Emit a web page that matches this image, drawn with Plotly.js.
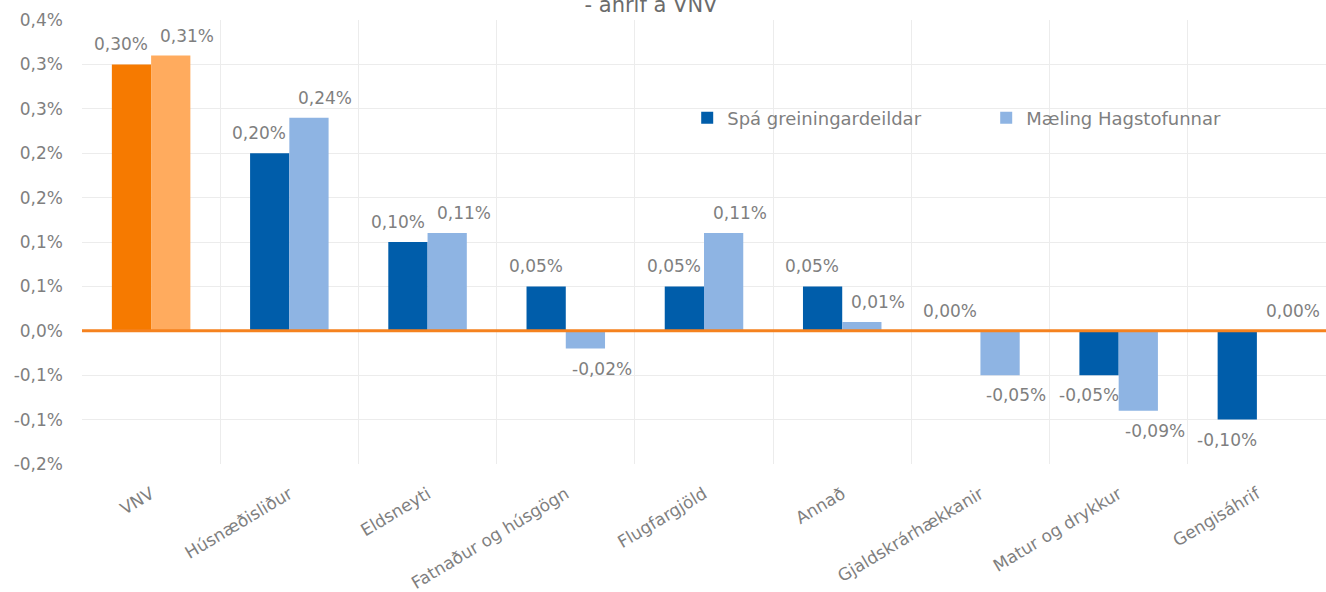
<!DOCTYPE html>
<html>
<head>
<meta charset="utf-8">
<script src="https://cdn.plot.ly/plotly-3.0.1.min.js"></script>
<style>
html, body { margin: 0; padding: 0; background: #ffffff; }
#chart { width: 1326px; height: 592px; }
</style>
</head>
<body>
<div id="chart"></div>
<script>
// ---- data ----
var categories = ["VNV", "Húsnæðisliður", "Eldsneyti", "Fatnaður og húsgögn", "Flugfargjöld", "Annað", "Gjaldskrárhækkanir", "Matur og drykkur", "Gengisáhrif"];
var spaValues = [0.30, 0.20, 0.10, 0.05, 0.05, 0.05, 0.00, -0.05, -0.10];
var maelingValues = [0.31, 0.24, 0.11, -0.02, 0.11, 0.01, -0.05, -0.09, 0.00];
var seriesNames = ["Spá greiningardeildar", "Mæling Hagstofunnar"];
var yTickVals = [-0.15, -0.10, -0.05, 0.00, 0.05, 0.10, 0.15, 0.20, 0.25, 0.30, 0.35];
var yTickText = ["-0,2%", "-0,1%", "-0,1%", "0,0%", "0,1%", "0,1%", "0,2%", "0,2%", "0,3%", "0,3%", "0,4%"];
var titleText = "- áhrif á VNV";

// ---- style ----
var FONT = "DejaVu Sans, Arial, sans-serif";
var GRAY = "#7f7f7f";
var C_SPA = "#005DAA", C_MAEL = "#8EB4E3";
var C_VNV_SPA = "#F67A00", C_VNV_MAEL = "#FFAB5E";

function fmt(v) { return v.toFixed(2).replace(".", ",") + "%"; }

var traces = [
  { type: "bar", name: seriesNames[0], x: categories.slice(1), y: spaValues.slice(1),
    marker: { color: C_SPA }, offsetgroup: "s", hoverinfo: "none" },
  { type: "bar", name: seriesNames[1], x: categories.slice(1), y: maelingValues.slice(1),
    marker: { color: C_MAEL }, offsetgroup: "m", hoverinfo: "none" },
  { type: "bar", name: seriesNames[0], x: categories.slice(0, 1), y: spaValues.slice(0, 1),
    marker: { color: C_VNV_SPA }, offsetgroup: "s", showlegend: false, hoverinfo: "none" },
  { type: "bar", name: seriesNames[1], x: categories.slice(0, 1), y: maelingValues.slice(0, 1),
    marker: { color: C_VNV_MAEL }, offsetgroup: "m", showlegend: false, hoverinfo: "none" }
];

var annotations = [];
function addLabels(vals, xs) {
  for (var i = 0; i < categories.length; i++) {
    var v = vals[i];
    annotations.push({
      x: categories[i], y: v, xref: "x", yref: "y",
      text: fmt(v), showarrow: false,
      xanchor: "center", yanchor: "middle",
      xshift: xs, yshift: v >= 0 ? 20 : -20,
      font: { family: FONT, size: 17, color: GRAY }
    });
  }
}
addLabels(spaValues, -30);
addLabels(maelingValues, 36);

var layout = {
  width: 1326, height: 592,
  margin: { l: 82, r: 0, t: 20, b: 128, pad: 0 },
  paper_bgcolor: "#ffffff", plot_bgcolor: "#ffffff",
  font: { family: FONT, size: 17, color: GRAY },
  title: { text: titleText, font: { family: FONT, size: 21, color: "#6b6b6b" },
           x: 651 / 1326, xanchor: "center", xref: "container",
           y: 1 - 12 / 592, yanchor: "bottom", yref: "container" },
  barmode: "group", bargap: 0.432, bargroupgap: 0,
  showlegend: true,
  legend: { orientation: "h", x: 0.4865, xanchor: "left", y: 0.779, yanchor: "middle",
            font: { family: FONT, size: 18, color: GRAY }, bgcolor: "rgba(0,0,0,0)",
            entrywidth: 254, traceorder: "normal" },
  xaxis: { type: "category", categoryorder: "array", categoryarray: categories,
           tickson: "boundaries", showgrid: true, gridcolor: "#ececec", gridwidth: 1,
           ticks: "", showline: false, zeroline: false, tickangle: -31,
           ticklabelstandoff: 16,
           tickfont: { family: FONT, size: 17, color: GRAY } },
  yaxis: { range: [-0.15, 0.35], tickmode: "array", tickvals: yTickVals, ticktext: yTickText,
           showgrid: true, gridcolor: "#ececec", gridwidth: 1, zeroline: false,
           showline: false, ticks: "", ticklabelstandoff: 18,
           tickfont: { family: FONT, size: 17, color: GRAY } },
  shapes: [{ type: "line", xref: "paper", yref: "y", x0: 0, x1: 1, y0: 0, y1: 0,
             line: { color: "#F5821F", width: 3 }, layer: "above" }],
  annotations: annotations
};

Plotly.newPlot("chart", traces, layout, { displayModeBar: false, staticPlot: true });
</script>
</body>
</html>
